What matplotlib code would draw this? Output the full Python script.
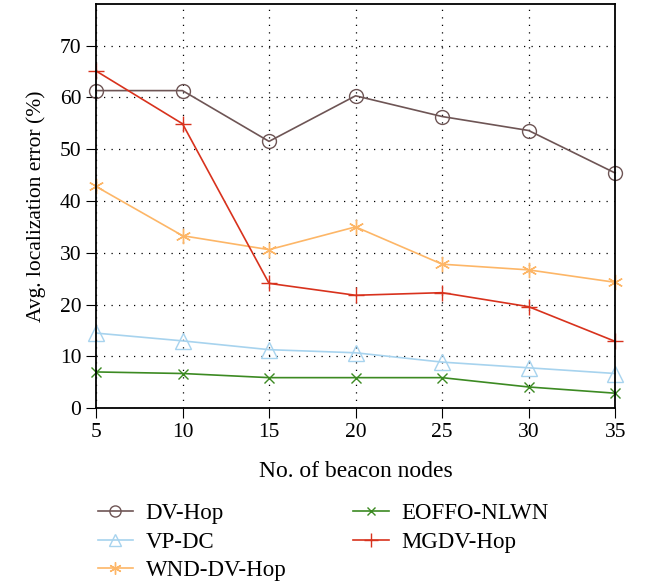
import matplotlib
matplotlib.use("Agg")
import matplotlib.pyplot as plt

plt.rcParams['font.family'] = ['Liberation Serif', 'DejaVu Serif']

beacons = [5, 10, 15, 20, 25, 30, 35]
dv_hop = [61.3, 61.3, 51.5, 60.3, 56.3, 53.6, 45.4]
vp_dc = [14.5, 13.0, 11.3, 10.7, 8.9, 7.8, 6.7]
wnd_dv_hop = [42.8, 33.3, 30.6, 35.0, 27.8, 26.7, 24.3]
eoffo_nlwn = [7.0, 6.7, 5.9, 5.9, 5.9, 4.1, 2.9]
mgdv_hop = [65.1, 54.9, 24.1, 21.8, 22.3, 19.6, 12.9]

fig = plt.figure(figsize=(6.53, 5.84), dpi=100)
ax = fig.add_axes([0.147, 0.301, 0.795, 0.692])

ax.plot(beacons, dv_hop, color='#6e5555', marker='o', ms=10, mfc='none', lw=1.2, label='DV-Hop', clip_on=False)
ax.plot(beacons, vp_dc, color='#a7d3ee', marker='^', ms=11, mfc='none', lw=1.2, label='VP-DC', clip_on=False)
ax.plot(beacons, wnd_dv_hop, color='#fdb667', marker=(6, 2, 0), ms=11, lw=1.2, label='WND-DV-Hop', clip_on=False)
ax.plot(beacons, eoffo_nlwn, color='#3c8a22', marker='x', ms=7, lw=1.2, label='EOFFO-NLWN', clip_on=False)
ax.plot(beacons, mgdv_hop, color='#d8321d', marker='+', ms=12, lw=1.2, label='MGDV-Hop', clip_on=False)

ax.set_xlim(5, 35)
ax.set_ylim(0, 78)
ax.set_xticks(beacons)
ax.set_yticks(range(0, 71, 10))
ax.grid(True, color='black', linestyle=(0, (1, 5)), linewidth=0.9)
ax.tick_params(direction='out', length=7, labelsize=15.5)
for s in ax.spines.values():
    s.set_linewidth(1.3)

ax.set_xlabel('No. of beacon nodes', fontsize=17, labelpad=14)
ax.set_ylabel('Avg. localization error (%)', fontsize=15.5, labelpad=10)

fig.legend(loc='upper left', bbox_to_anchor=(0.125, 0.166), ncol=2, frameon=False,
           fontsize=16.5, handlelength=1.55, handletextpad=0.55, columnspacing=2.9,
           labelspacing=0.33, markerscale=0.8, borderpad=0.2)

fig.savefig('out.png', dpi=100)
